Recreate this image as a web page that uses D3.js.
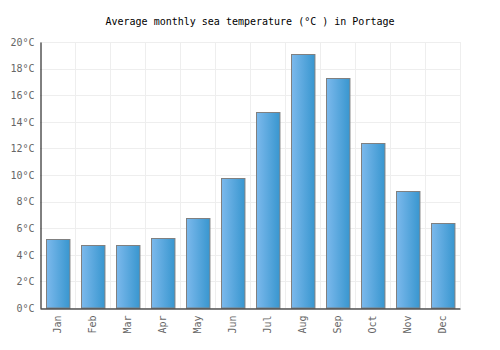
<!DOCTYPE html>
<html>
<head>
<meta charset="utf-8">
<script src="https://cdn.jsdelivr.net/npm/d3@7"></script>
<style>
  body { margin: 0; background: #fff; }
  text { font-family: "DejaVu Sans Mono", monospace; }
</style>
</head>
<body>
<div id="chart"></div>
<script>
const months = ["Jan", "Feb", "Mar", "Apr", "May", "Jun", "Jul", "Aug", "Sep", "Oct", "Nov", "Dec"];
const temps = [5.2, 4.7, 4.7, 5.3, 6.8, 9.8, 14.7, 19.1, 17.3, 12.4, 8.8, 6.4];
const yTicks = [0, 2, 4, 6, 8, 10, 12, 14, 16, 18, 20];

let width = 500, height = 350,
    margin = ({ top: 42, right: 40, bottom: 42, left: 40 });

const svg = d3.select("#chart")
  .append("svg")
  .attr("width", width)
  .attr("height", height);

// gradient for bars, light on left, darker on right
const grad = svg.append("defs").append("linearGradient")
  .attr("id", "barGrad")
  .attr("x1", "0%").attr("x2", "100%").attr("y1", "0%").attr("y2", "0%");
grad.append("stop").attr("offset", "0%").attr("stop-color", "#7cb9ec");
grad.append("stop").attr("offset", "100%").attr("stop-color", "#3896cf");

let x = d3.scaleBand()
  .domain(months)
  .range([margin.left, width - margin.right])
  .paddingInner(0.33)
  .paddingOuter(0.165);

let xGrid = d3.scaleBand()
  .domain(months)
  .range([margin.left, width - margin.right]);

let y = d3.scaleLinear()
  .domain([0, 20])
  .range([height - margin.bottom, margin.top]);

// grid
svg.append("g")
  .selectAll("line.h")
  .data(yTicks)
  .join("line")
  .attr("x1", margin.left).attr("x2", width - margin.right)
  .attr("y1", d => Math.round(y(d)) + 0.5).attr("y2", d => Math.round(y(d)) + 0.5)
  .attr("stroke", "#eeeeee");

svg.append("g")
  .selectAll("line.v")
  .data(months.slice(1).map(m => xGrid(m)).concat([width - margin.right]))
  .join("line")
  .attr("x1", d => Math.round(d) + 0.5).attr("x2", d => Math.round(d) + 0.5)
  .attr("y1", margin.top).attr("y2", height - margin.bottom)
  .attr("stroke", "#eeeeee");

// bars
svg.append("g")
  .selectAll("rect")
  .data(temps)
  .join("rect")
  .attr("x", (d, i) => Math.round(x(months[i])) + 0.5)
  .attr("y", d => Math.round(y(d)) + 0.5)
  .attr("width", x.bandwidth())
  .attr("height", d => y(0) - Math.round(y(d)) - 0.5)
  .attr("fill", "url(#barGrad)")
  .attr("stroke", "#808080")
  .attr("stroke-width", 1);

// y axis
const yAxis = svg.append("g")
  .attr("transform", `translate(${margin.left + 0.5},0)`)
  .call(d3.axisLeft(y).tickValues(yTicks).tickSize(0).tickPadding(6).tickFormat(d => d + "°C"));
yAxis.select(".domain").attr("stroke", "#000");
yAxis.selectAll("text").attr("fill", "#666").attr("font-size", 10)
  .attr("font-family", "DejaVu Sans Mono, monospace");

// x axis
const xAxis = svg.append("g")
  .attr("transform", `translate(0,${height - margin.bottom + 0.5})`)
  .call(d3.axisBottom(xGrid).tickSize(0).tickPadding(0));
xAxis.select(".domain").attr("stroke", "#000");
xAxis.selectAll("text")
  .attr("fill", "#666")
  .attr("font-size", 10)
  .attr("font-family", "DejaVu Sans Mono, monospace")
  .attr("text-anchor", "end")
  .attr("dy", "0.35em")
  .attr("transform", "translate(0,7) rotate(-90)")
  .attr("y", 0).attr("x", 0);

// title
svg.append("text")
  .attr("x", width / 2)
  .attr("y", 25)
  .attr("text-anchor", "middle")
  .attr("font-size", 10)
  .attr("fill", "#000")
  .text("Average monthly sea temperature (°C ) in Portage");
</script>
</body>
</html>
